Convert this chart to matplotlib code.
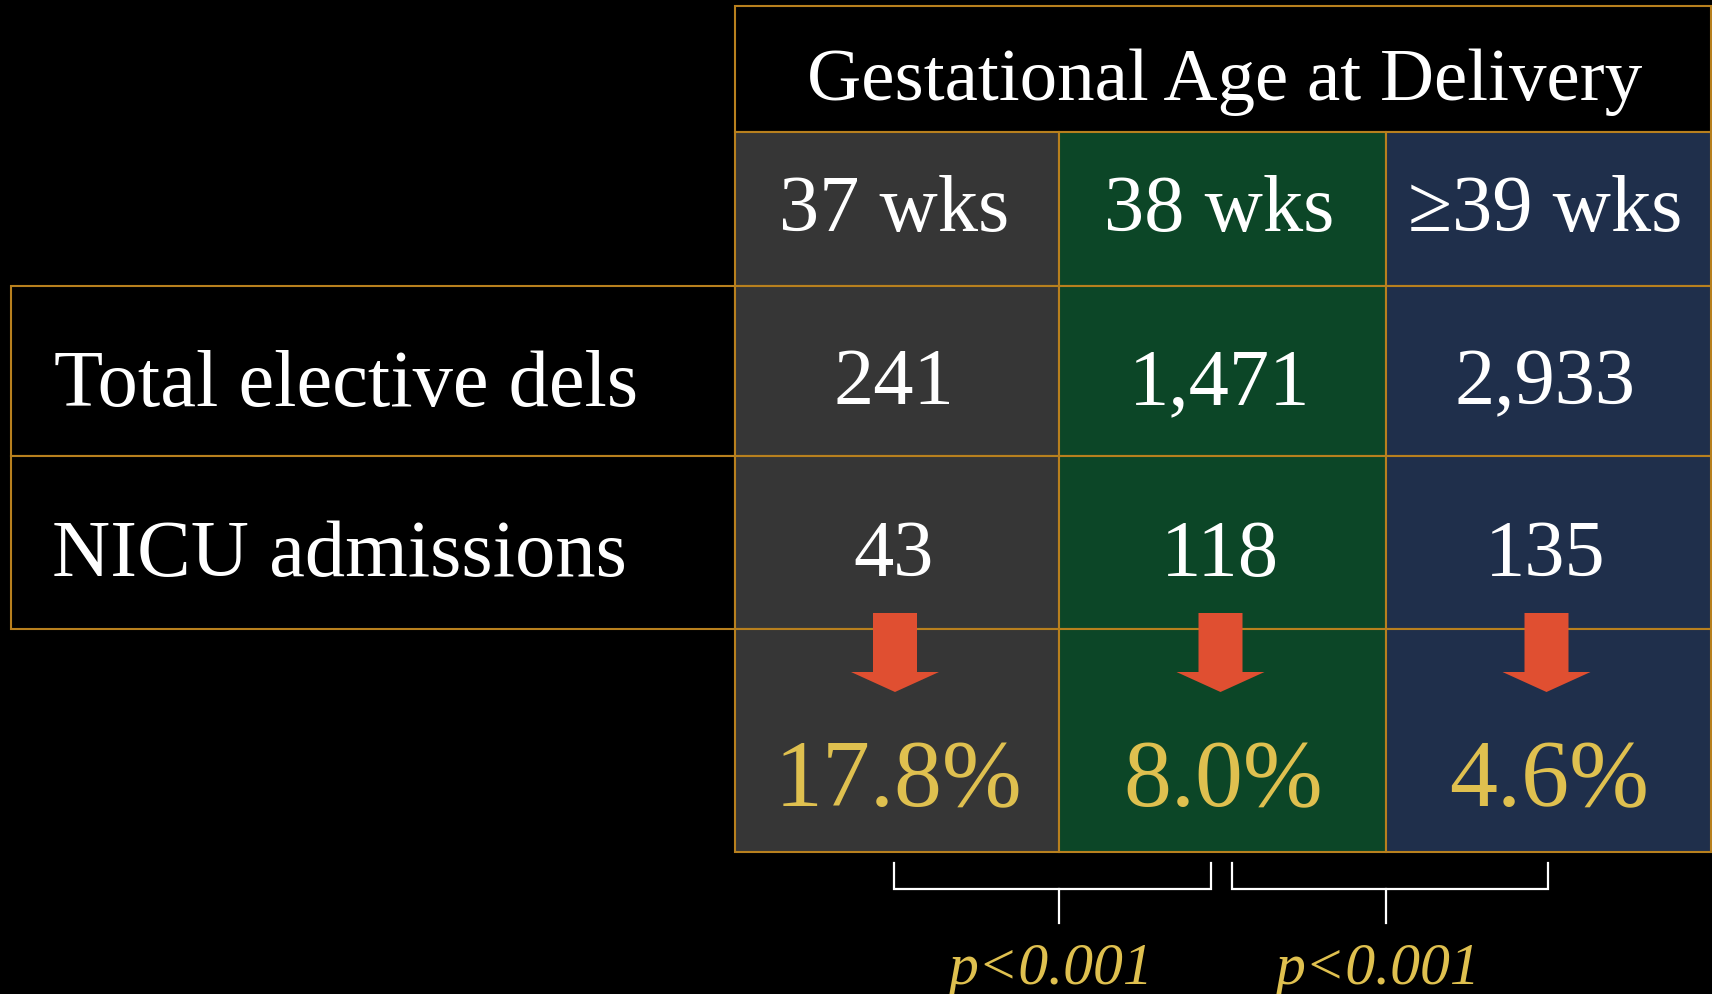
import matplotlib
matplotlib.use("Agg")
import matplotlib.pyplot as plt
from matplotlib.patches import Rectangle, FancyArrow

# data
header = "Gestational Age at Delivery"
groups = ["37 wks", "38 wks", "\u226539 wks"]
row_labels = ["Total elective dels", "NICU admissions"]
total_dels = ["241", "1,471", "2,933"]
nicu_adm = ["43", "118", "135"]
nicu_pct = ["17.8%", "8.0%", "4.6%"]
p_values = ["p<0.001", "p<0.001"]

# layout (pixel units)
W, H = 1712, 994
col_edges = [735, 1059, 1386, 1711]
label_left = 11
y_top, y_head, y_r1, y_r2, y_r3, y_bot = 6, 132, 286, 456, 629, 852
col_colors = ["#363636", "#0C4627", "#1F2F4B"]
border = "#B8801E"
gold = "#DFC04F"
red = "#E04F31"
serif = ["Liberation Serif", "DejaVu Serif"]

fig = plt.figure(figsize=(W / 100, H / 100), dpi=100, facecolor="black")
ax = fig.add_axes([0, 0, 1, 1])
ax.set_xlim(0, W)
ax.set_ylim(H, 0)
ax.axis("off")
ax.set_facecolor("black")

def cell(x0, x1, y0, y1, fc):
    ax.add_patch(Rectangle((x0, y0), x1 - x0, y1 - y0, facecolor=fc,
                           edgecolor=border, lw=1.5, zorder=1))

# header
cell(col_edges[0], col_edges[-1], y_top, y_head, "black")
ax.text((col_edges[0] + col_edges[-1]) / 2 + 2, 100, header, color="white",
        fontsize=54, family=serif, ha="center", va="baseline")

# row label cells
cell(label_left, col_edges[0], y_r1, y_r2, "black")
cell(label_left, col_edges[0], y_r2, y_r3, "black")
ax.text(54, 406, row_labels[0], color="white", fontsize=58, family=serif,
        ha="left", va="baseline")
ax.text(52, 576, row_labels[1], color="white", fontsize=58, family=serif,
        ha="left", va="baseline")

centers = []
for i in range(3):
    x0, x1 = col_edges[i], col_edges[i + 1]
    xc = (x0 + x1) / 2
    centers.append(xc)
    for (ya, yb) in [(y_head, y_r1), (y_r1, y_r2), (y_r2, y_r3), (y_r3, y_bot)]:
        cell(x0, x1, ya, yb, col_colors[i])
    ax.text(xc - 3, 231, groups[i], color="white", fontsize=58, family=serif,
            ha="center", va="baseline", zorder=3)
    ax.text(xc - 3, 404, total_dels[i], color="white", fontsize=58, family=serif,
            ha="center", va="baseline", zorder=3)
    ax.text(xc - 3, 576, nicu_adm[i], color="white", fontsize=58, family=serif,
            ha="center", va="baseline", zorder=3)
    ax.text(xc + 1, 806, nicu_pct[i], color=gold, fontsize=69, family=serif,
            ha="center", va="baseline", zorder=3)
    ax.add_patch(FancyArrow(xc - 2, 613, 0, 79, width=44, head_width=88,
                            head_length=20, length_includes_head=True,
                            color=red, lw=0, zorder=4))

# brackets with p-values
for j in range(2):
    xl = centers[j] - 3 if j == 0 else centers[j] + 10
    xr = centers[j + 1] - 11 if j == 0 else centers[j + 1]
    xs = col_edges[j + 1]
    ax.plot([xl, xl, xr, xr], [863, 889, 889, 863], color="white", lw=1.6,
            solid_joinstyle="miter", zorder=3)
    ax.plot([xs, xs], [889, 923], color="white", lw=1.6, zorder=3)
    ax.text(xs - 8, 984, p_values[j], color=gold, fontsize=43, family=serif,
            style="italic", ha="center", va="baseline")

fig.savefig("out.png", dpi=100, facecolor="black")
